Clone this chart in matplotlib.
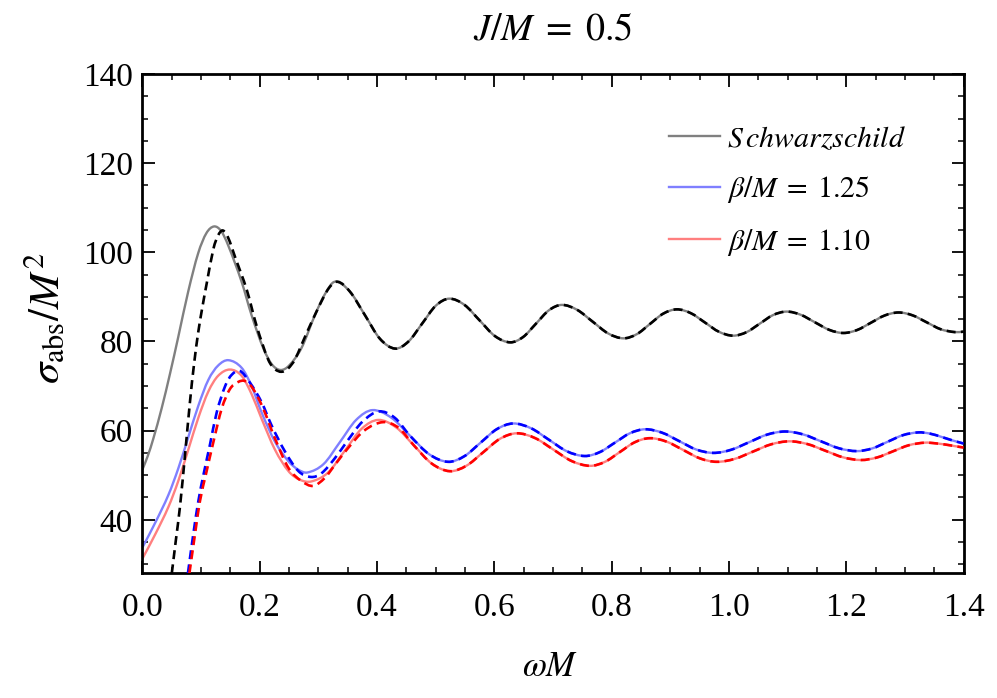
import numpy as np
import matplotlib
matplotlib.use("Agg")
import matplotlib.pyplot as plt
from matplotlib.ticker import FixedLocator, MultipleLocator
from matplotlib.lines import Line2D
from matplotlib.path import Path
from matplotlib.patches import PathPatch

# ---------------- data ----------------
sch_x = [0.000, 0.009, 0.0185, 0.0327, 0.047, 0.061, 0.078, 0.095, 0.109, 0.122, 0.134, 0.146,
         0.169, 0.186, 0.206, 0.221, 0.2356, 0.250, 0.271, 0.294, 0.311, 0.328, 0.3536, 0.3793,
         0.4049, 0.4305, 0.4536, 0.4768, 0.4999, 0.523, 0.549, 0.575, 0.601, 0.627, 0.649, 0.671,
         0.693, 0.715, 0.741, 0.7675, 0.794, 0.820, 0.843, 0.8655, 0.888, 0.911, 0.935, 0.959,
         0.983, 1.007, 1.030, 1.0525, 1.075, 1.098, 1.122, 1.1465, 1.171, 1.195, 1.2185, 1.242,
         1.2655, 1.289, 1.313, 1.337, 1.361, 1.385, 1.400]
sch_y = [51.3, 54.3, 58.2, 65.0, 72.8, 81.0, 91.2, 99.8, 104.3, 105.8, 104.8, 101.6,
         93.4, 85.9, 78.5, 74.8, 73.6, 74.6, 78.5, 85.9, 90.6, 93.4, 91.2, 85.9,
         80.6, 78.4, 80.0, 84.0, 88.0, 89.6, 88.2, 84.7, 81.2, 79.8, 81.0, 84.0,
         87.0, 88.2, 87.1, 84.45, 81.8, 80.7, 81.65, 83.95, 86.25, 87.2, 86.34, 84.25,
         82.16, 81.3, 82.09, 84.0, 85.91, 86.7, 86.0, 84.3, 82.6, 81.9, 82.57, 84.2,
         85.83, 86.5, 85.86, 84.3, 82.74, 82.1, 82.2]

sch_dash_x = [0.050, 0.057, 0.064, 0.0725, 0.081, 0.088, 0.095, 0.102, 0.1095, 0.121, 0.129,
              0.137, 0.146, 0.158, 0.178, 0.195, 0.2145, 0.226, 0.237, 0.248, 0.260, 0.280,
              0.300, 0.318, 0.333]
sch_dash_y = [28.0, 35.5, 43.0, 54.5, 66.5, 75.0, 82.0, 87.6, 93.0, 100.8, 103.8,
              104.9, 103.3, 98.9, 91.5, 83.3, 75.9, 73.8, 73.2, 73.9, 76.0, 81.9,
              87.6, 92.0, 93.4]

b125_x = [0.000, 0.0216, 0.0443, 0.0613, 0.0783, 0.0953, 0.1124, 0.129, 0.1464, 0.169, 0.186,
          0.203, 0.226, 0.249, 0.265, 0.281, 0.3088, 0.3365, 0.3643, 0.392, 0.4243, 0.4565,
          0.4888, 0.521, 0.5488, 0.5765, 0.6043, 0.632, 0.6625, 0.693, 0.7235, 0.754, 0.7798,
          0.8055, 0.8313, 0.857, 0.886, 0.915, 0.944, 0.973, 1.0036, 1.0343, 1.0649, 1.0955,
          1.1261, 1.1568, 1.1874, 1.218, 1.2443, 1.2705, 1.2968, 1.323, 1.3425, 1.362, 1.381,
          1.400]
b125_y = [33.8, 39.3, 45.6, 51.6, 58.6, 65.6, 71.4, 74.6, 75.8, 74.1, 70.0,
          64.1, 57.5, 53.1, 51.3, 50.6, 52.5, 57.4, 62.4, 64.6, 62.9, 58.8,
          54.7, 53.0, 54.26, 57.3, 60.34, 61.6, 60.53, 57.95, 55.37, 54.3, 55.18,
          57.3, 59.42, 60.3, 59.53, 57.65, 55.77, 55.0, 55.7, 57.4, 59.1, 59.8,
          59.16, 57.6, 56.04, 55.4, 56.01, 57.5, 58.99, 59.6, 59.33, 58.6, 57.8,
          57.1]

b125_dash_x = [0.0775, 0.0868, 0.0953, 0.104, 0.115, 0.1266, 0.141, 0.152, 0.166, 0.183, 0.203,
               0.220, 0.243, 0.266, 0.287, 0.305, 0.328, 0.350, 0.375, 0.403, 0.430]
b125_dash_y = [28.0, 36.9, 44.2, 50.1, 56.8, 64.1, 70.0, 72.5, 73.4, 70.8, 66.4,
               61.2, 55.3, 50.9, 49.6, 50.4, 53.8, 57.8, 62.0, 64.3, 62.9]

b110_x = [0.000, 0.0216, 0.0443, 0.0613, 0.0783, 0.0953, 0.1124, 0.129, 0.149, 0.169, 0.186,
          0.203, 0.226, 0.249, 0.268, 0.288, 0.3165, 0.345, 0.3735, 0.402, 0.4325, 0.463,
          0.4935, 0.524, 0.5525, 0.581, 0.6095, 0.638, 0.6693, 0.7005, 0.7318, 0.763, 0.7885,
          0.814, 0.8395, 0.865, 0.8935, 0.922, 0.9505, 0.979, 1.010, 1.041, 1.072, 1.103,
          1.1335, 1.164, 1.1945, 1.225, 1.2523, 1.2795, 1.3068, 1.334, 1.352, 1.370, 1.386,
          1.400]
b110_y = [31.3, 36.7, 42.9, 48.8, 55.8, 62.9, 68.8, 72.3, 73.7, 72.3, 68.2,
          62.7, 55.7, 50.9, 49.0, 48.6, 50.6, 55.5, 60.4, 62.4, 60.72, 56.65,
          52.58, 50.9, 52.14, 55.15, 58.16, 59.4, 58.33, 55.75, 53.17, 52.1, 53.0,
          55.2, 57.4, 58.3, 57.53, 55.65, 53.77, 53.0, 53.67, 55.3, 56.93, 57.6,
          56.99, 55.5, 54.01, 53.4, 53.97, 55.35, 56.73, 57.3, 57.15, 56.85, 56.5,
          56.2]

b110_dash_x = [0.080, 0.0897, 0.098, 0.108, 0.121, 0.135, 0.149, 0.163, 0.175, 0.189, 0.206,
               0.226, 0.249, 0.271, 0.291, 0.311, 0.328, 0.350, 0.378, 0.410, 0.437]
b110_dash_y = [28.0, 36.9, 44.2, 50.1, 57.5, 64.9, 69.3, 70.9, 71.1, 69.3, 64.9,
               58.2, 51.6, 48.7, 47.6, 49.4, 52.3, 56.0, 60.0, 61.9, 60.6]

labels = [r'$S\,chwarzschild$', r'$\beta/M\;=\;1.25$', r'$\beta/M\;=\;1.10$']
x_ticks = [0.0, 0.2, 0.4, 0.6, 0.8, 1.0, 1.2, 1.4]
x_ticklabels = ['0.0', '0.2', '0.4', '0.6', '0.8', '1.0', '1.2', '1.4']
y_ticks = [40, 60, 80, 100, 120, 140]
y_ticklabels = ['40', '60', '80', '100', '120', '140']
title_text = r'$J/M\;=\;0.5$'


def join(dx, dy, sx, sy):
    """dashed curve: its own early points, then it coincides with the solid one"""
    sx = np.asarray(sx); sy = np.asarray(sy)
    m = sx > dx[-1] + 0.02
    return np.concatenate([dx, sx[m]]), np.concatenate([dy, sy[m]])


def smooth_path(x, y):
    """Cubic Hermite (Bezier) path through the data points, in data coordinates."""
    x = np.asarray(x, float); y = np.asarray(y, float)
    n = len(x)
    m = np.zeros(n)
    m[1:-1] = (y[2:] - y[:-2]) / (x[2:] - x[:-2])
    m[0] = (y[1] - y[0]) / (x[1] - x[0])
    m[-1] = (y[-1] - y[-2]) / (x[-1] - x[-2])
    verts = [(x[0], y[0])]
    codes = [Path.MOVETO]
    for i in range(n - 1):
        h = x[i + 1] - x[i]
        verts += [(x[i] + h / 3, y[i] + m[i] * h / 3),
                  (x[i + 1] - h / 3, y[i + 1] - m[i + 1] * h / 3),
                  (x[i + 1], y[i + 1])]
        codes += [Path.CURVE4] * 3
    return Path(verts, codes)


def draw(ax, x, y, **kw):
    p = PathPatch(smooth_path(x, y), fill=False, capstyle='butt', joinstyle='round', **kw)
    ax.add_patch(p)
    return p


# ---------------- style ----------------
plt.rcParams['font.family'] = ['Liberation Serif', 'DejaVu Serif']
plt.rcParams['mathtext.fontset'] = 'stix'

fig = plt.figure(figsize=(9.97, 6.98), dpi=100)
ax = fig.add_axes([0.1429, 0.1787, 0.8236, 0.7153])

solid_lw = 1.7
dash_lw = 1.9
dash_style = (0, (3.4, 2.0))
colors = ['#808080', '#7f7fff', '#ff7f7f']
dcolors = ['#000000', '#0000ff', '#ff0000']

draw(ax, sch_x, sch_y, edgecolor=colors[0], lw=solid_lw, zorder=2)
draw(ax, b125_x, b125_y, edgecolor=colors[1], lw=solid_lw, zorder=2)
draw(ax, b110_x, b110_y, edgecolor=colors[2], lw=solid_lw, zorder=2)

dx, dy = join(sch_dash_x, sch_dash_y, sch_x, sch_y)
draw(ax, dx, dy, edgecolor=dcolors[0], lw=dash_lw, linestyle=dash_style, zorder=3)
dx, dy = join(b125_dash_x, b125_dash_y, b125_x, b125_y)
draw(ax, dx, dy, edgecolor=dcolors[1], lw=dash_lw, linestyle=dash_style, zorder=3)
dx, dy = join(b110_dash_x, b110_dash_y, b110_x, b110_y)
draw(ax, dx, dy, edgecolor=dcolors[2], lw=dash_lw, linestyle=dash_style, zorder=3)

ax.set_xlim(0, 1.4)
ax.set_ylim(28, 140)

ax.xaxis.set_major_locator(FixedLocator(x_ticks))
ax.set_xticklabels(x_ticklabels)
ax.xaxis.set_minor_locator(MultipleLocator(0.05))
ax.yaxis.set_major_locator(FixedLocator(y_ticks))
ax.set_yticklabels(y_ticklabels)
ax.yaxis.set_minor_locator(MultipleLocator(5))

ax.tick_params(which='both', direction='in', top=True, right=True, labelsize=24)
ax.tick_params(which='major', length=9, width=1.3)
ax.tick_params(which='minor', length=4.5, width=1.1)
ax.tick_params(axis='x', which='major', pad=14)
ax.tick_params(axis='y', which='major', pad=7)
for s in ax.spines.values():
    s.set_linewidth(2.0)

handles = [Line2D([], [], color=c, lw=solid_lw) for c in colors]
leg = ax.legend(handles=handles, labels=labels, loc='upper left', frameon=False,
                bbox_to_anchor=(669 / 997, 1 - 125 / 698), bbox_transform=fig.transFigure,
                borderpad=0, borderaxespad=0, handlelength=1.7, handletextpad=0.25,
                labelspacing=0.72, fontsize=21.5)

fig.text(553 / 997, 1 - 30 / 698, title_text, ha='center', va='center', fontsize=27.5)
fig.text(550 / 997, 1 - 667 / 698, r'$\omega M$', ha='center', va='center', fontsize=25)
fig.text(45 / 997, 1 - 318 / 698, r'$\sigma_{\mathrm{abs}}/M^2$', ha='center', va='center',
         rotation=90, fontsize=31)

fig.savefig('out.png', dpi=100)
